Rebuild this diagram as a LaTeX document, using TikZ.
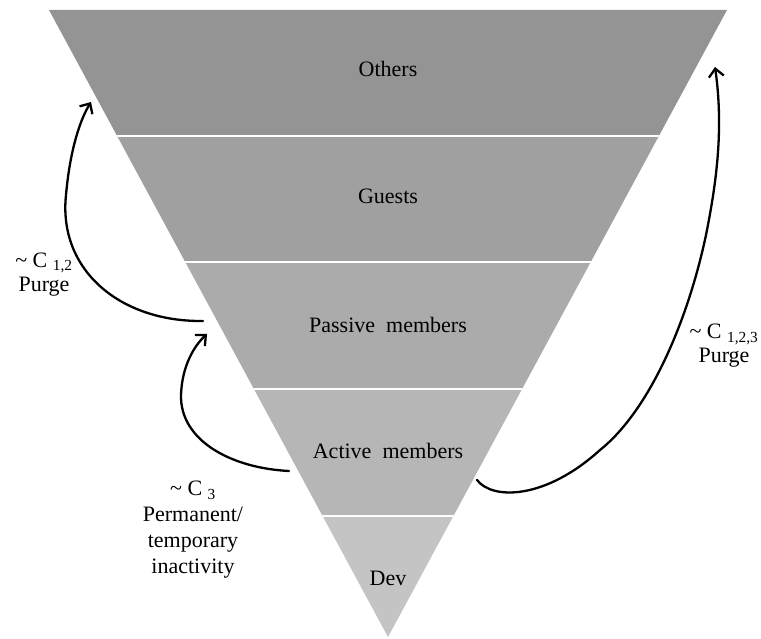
\documentclass[tikz,border=0pt]{standalone}
\usepackage{fontspec}
\setmainfont{Liberation Serif}
\usetikzlibrary{arrows.meta}
\definecolor{bandA}{RGB}{148,148,148}
\definecolor{bandB}{RGB}{160,160,160}
\definecolor{bandC}{RGB}{171,171,171}
\definecolor{bandD}{RGB}{182,182,182}
\definecolor{bandE}{RGB}{196,196,196}
\begin{document}
\begin{tikzpicture}[x=1pt,y=-1pt,
  band label/.style={font=\fontsize{22}{24}\selectfont, inner sep=0pt, anchor=base},
  side label/.style={align=center, inner sep=0pt},
  flow/.style={line width=2.3pt, line cap=round,
    -{Straight Barb[length=8pt,width=15pt,line width=2.3pt]}},
]
\useasboundingbox (0,0) rectangle (761,639);

% funnel outline
\coordinate (TL) at (49,10);
\coordinate (TR) at (727,10);
\coordinate (AP) at (388,637);

\begin{scope}
  \clip (TL) -- (TR) -- (AP) -- cycle;
  \fill[bandA] (0,0)     rectangle (761,136);
  \fill[bandB] (0,136)   rectangle (761,262.5);
  \fill[bandC] (0,262.5) rectangle (761,389);
  \fill[bandD] (0,389)   rectangle (761,515.5);
  \fill[bandE] (0,515.5) rectangle (761,639);
  \foreach \y in {136,262.5,389,515.5}
    \draw[white, line width=2pt] (0,\y) -- (761,\y);
\end{scope}

% band labels
\node[band label] (others)  at (388,77)    {Others};
\node[band label] (guests)  at (388,203.5) {Guests};
\node[band label] (passive) at (388,332)   {Passive\ \ members};
\node[band label] (active)  at (388,458.5) {Active\ \ members};
\node[band label] (dev)     at (388,585)   {Dev};

% transition labels
\node[side label, font=\fontsize{22}{24}\selectfont] (purgeL) at (44,274.5)
  {\textasciitilde{} C \textsubscript{1,2}\\Purge};
\node[side label, font=\fontsize{22}{24}\selectfont] (purgeR) at (724,346)
  {\textasciitilde{} C \textsubscript{1,2,3}\\Purge};
\node[side label, font=\fontsize{22}{26}\selectfont] (inact) at (193,530)
  {\textasciitilde{} C \textsubscript{3}\\Permanent/\\temporary\\inactivity};

% connector ends
\coordinate (passiveOut) at (203,321);
\coordinate (othersIn)   at (91,102);
\coordinate (activeOutL) at (289,471);
\coordinate (passiveIn)  at (207,334);
\coordinate (activeOutR) at (477,480);
\coordinate (othersInR)  at (715,67);

% transitions
\draw[flow] (passiveOut) .. controls (120,322) and (58,270) .. (66,195)
  .. controls (70,150) and (80,120) .. (othersIn);
\draw[flow] (activeOutL) .. controls (230,468) and (180,440) .. (181,395)
  .. controls (182,365) and (195,345) .. (passiveIn);
\draw[flow] (activeOutR) .. controls (492,500) and (545,500) .. (600,450)
  .. controls (650,410) and (688,320) .. (706,235)
  .. controls (716,185) and (724,130) .. (othersInR);
\end{tikzpicture}
\end{document}
